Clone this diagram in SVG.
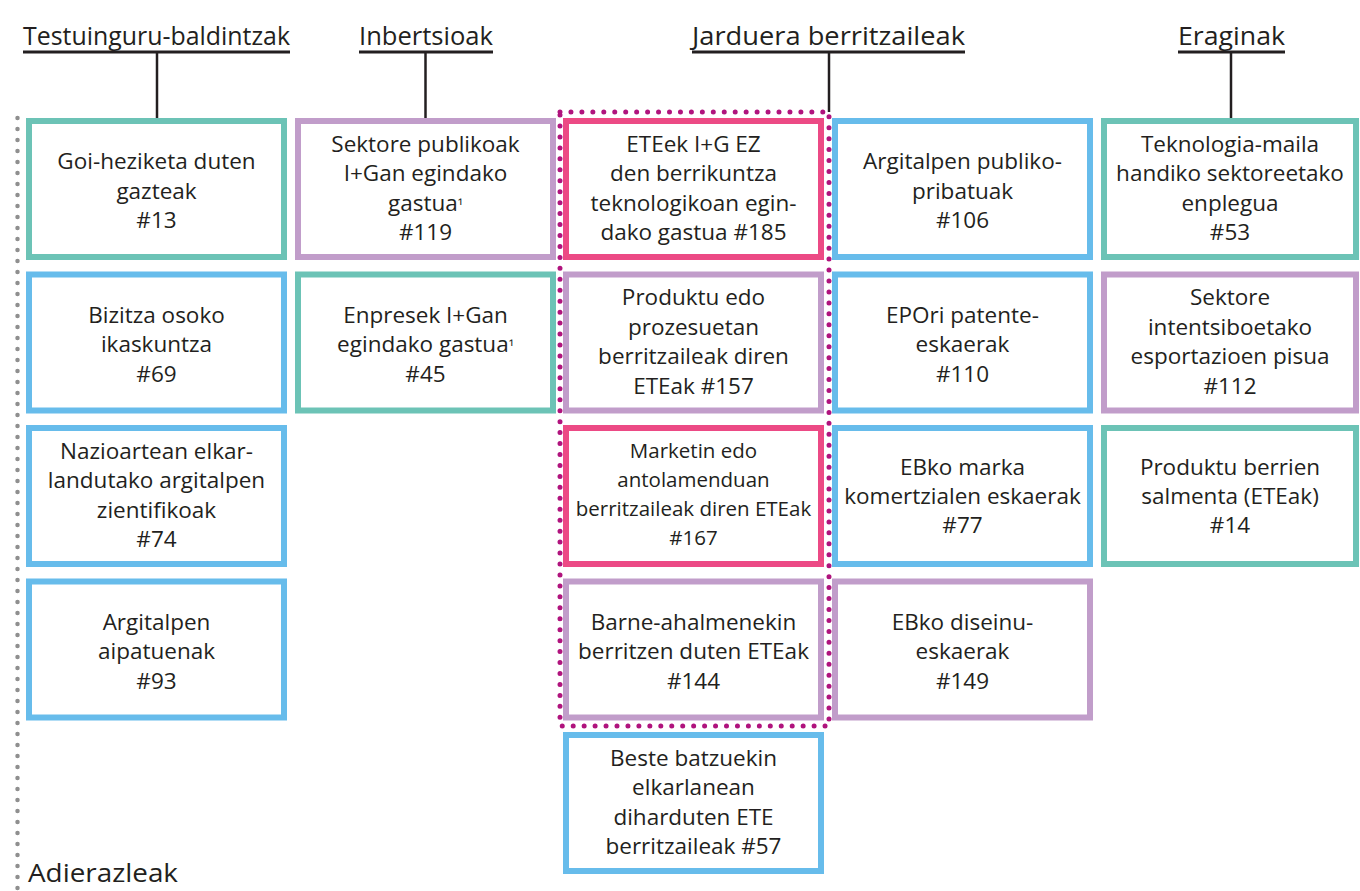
<svg xmlns="http://www.w3.org/2000/svg" width="1360" height="891" viewBox="0 0 1360 891">
<style>
  .hd { font-family: "Open Sans", "Liberation Sans", sans-serif; font-size: 26px; fill: #231f20; }
  .t { font-family: "Open Sans", "Liberation Sans", sans-serif; font-size: 22.5px; fill: #231f20; text-anchor: middle; }
  .ts { font-size: 20.5px; }
  .sup { font-size: 15px; }
  .box { fill: #ffffff; stroke-width: 6; }
  .teal { stroke: #6cc3b6; }
  .lilac { stroke: #c19dca; }
  .blue { stroke: #67bceb; }
  .pink { stroke: #ec4a85; }
  .rule { stroke: #231f20; stroke-width: 3; fill: none; }
  .stem { stroke: #231f20; stroke-width: 2.5; fill: none; }
</style>
<rect x="0" y="0" width="1360" height="891" fill="#ffffff"/>

<g id="headers">
  <text class="hd" x="23" y="45" textLength="267" lengthAdjust="spacingAndGlyphs">Testuinguru-baldintzak</text>
  <text class="hd" x="359" y="45" textLength="134" lengthAdjust="spacingAndGlyphs">Inbertsioak</text>
  <text class="hd" x="692" y="45" textLength="273" lengthAdjust="spacingAndGlyphs">Jarduera berritzaileak</text>
  <text class="hd" x="1178" y="45" textLength="107" lengthAdjust="spacingAndGlyphs">Eraginak</text>
</g>

<g id="connectors">
  <line class="rule" x1="23" y1="52" x2="290" y2="52"/>
  <line class="rule" x1="359" y1="52" x2="493" y2="52"/>
  <line class="rule" x1="692" y1="52" x2="965" y2="52"/>
  <line class="rule" x1="1178" y1="52" x2="1285" y2="52"/>
  <line class="stem" x1="157" y1="53" x2="157" y2="118"/>
  <line class="stem" x1="425.5" y1="53" x2="425.5" y2="118"/>
  <line class="stem" x1="829" y1="53" x2="829" y2="112"/>
  <line class="stem" x1="1231" y1="53" x2="1231" y2="118"/>
  <line x1="17.5" y1="118" x2="17.5" y2="891" stroke="#8f8f8f" stroke-width="4.5" stroke-linecap="round" stroke-dasharray="0 11"/>
  <rect x="560" y="112" width="269" height="614" fill="none" stroke="#b0137d" stroke-width="5" stroke-linecap="round" stroke-dasharray="0 10.95"/>
</g>

<!-- Column 1 -->
<g id="n13">
  <rect class="box teal" x="29" y="121" width="255" height="136"/>
  <text class="t" x="156.5" y="169">Goi-heziketa duten</text>
  <text class="t" x="156.5" y="198.5">gazteak</text>
  <text class="t" x="156.5" y="228">#13</text>
</g>
<g id="n69">
  <rect class="box blue" x="29" y="274.5" width="255" height="136"/>
  <text class="t" x="156.5" y="322.5">Bizitza osoko</text>
  <text class="t" x="156.5" y="352">ikaskuntza</text>
  <text class="t" x="156.5" y="381.5">#69</text>
</g>
<g id="n74">
  <rect class="box blue" x="29" y="428" width="255" height="136"/>
  <text class="t" x="156.5" y="458.5">Nazioartean elkar-</text>
  <text class="t" x="156.5" y="488">landutako argitalpen</text>
  <text class="t" x="156.5" y="517.5">zientifikoak</text>
  <text class="t" x="156.5" y="547">#74</text>
</g>
<g id="n93">
  <rect class="box blue" x="29" y="581.5" width="255" height="136"/>
  <text class="t" x="156.5" y="629.5">Argitalpen</text>
  <text class="t" x="156.5" y="659">aipatuenak</text>
  <text class="t" x="156.5" y="688.5">#93</text>
</g>

<!-- Column 2 -->
<g id="n119">
  <rect class="box lilac" x="298" y="121" width="255" height="136"/>
  <text class="t" x="425.5" y="151.5">Sektore publikoak</text>
  <text class="t" x="425.5" y="181">I+Gan egindako</text>
  <text class="t" x="425.5" y="210.5">gastua<tspan class="sup">¹</tspan></text>
  <text class="t" x="425.5" y="240">#119</text>
</g>
<g id="n45">
  <rect class="box teal" x="298" y="274.5" width="255" height="136"/>
  <text class="t" x="425.5" y="322.5">Enpresek I+Gan</text>
  <text class="t" x="425.5" y="352">egindako gastua<tspan class="sup">¹</tspan></text>
  <text class="t" x="425.5" y="381.5">#45</text>
</g>

<!-- Column 3 -->
<g id="n185">
  <rect class="box pink" x="566" y="121" width="255" height="136"/>
  <text class="t" x="693.5" y="151.5">ETEek I+G EZ</text>
  <text class="t" x="693.5" y="181">den berrikuntza</text>
  <text class="t" x="693.5" y="210.5">teknologikoan egin-</text>
  <text class="t" x="693.5" y="240">dako gastua #185</text>
</g>
<g id="n157">
  <rect class="box lilac" x="566" y="274.5" width="255" height="136"/>
  <text class="t" x="693.5" y="305">Produktu edo</text>
  <text class="t" x="693.5" y="334.5">prozesuetan</text>
  <text class="t" x="693.5" y="364">berritzaileak diren</text>
  <text class="t" x="693.5" y="393.5">ETEak #157</text>
</g>
<g id="n167">
  <rect class="box pink" x="566" y="428" width="255" height="136"/>
  <text class="t ts" x="693.5" y="458">Marketin edo</text>
  <text class="t ts" x="693.5" y="487">antolamenduan</text>
  <text class="t ts" x="693.5" y="516">berritzaileak diren ETEak</text>
  <text class="t ts" x="693.5" y="545">#167</text>
</g>
<g id="n144">
  <rect class="box lilac" x="566" y="581.5" width="255" height="136"/>
  <text class="t" x="693.5" y="629.5">Barne-ahalmenekin</text>
  <text class="t" x="693.5" y="659">berritzen duten ETEak</text>
  <text class="t" x="693.5" y="688.5">#144</text>
</g>
<g id="n57">
  <rect class="box blue" x="566" y="735" width="255" height="136"/>
  <text class="t" x="693.5" y="765.5">Beste batzuekin</text>
  <text class="t" x="693.5" y="795">elkarlanean</text>
  <text class="t" x="693.5" y="824.5">diharduten ETE</text>
  <text class="t" x="693.5" y="854">berritzaileak #57</text>
</g>

<!-- Column 4 -->
<g id="n106">
  <rect class="box blue" x="835" y="121" width="255" height="136"/>
  <text class="t" x="962.5" y="169">Argitalpen publiko-</text>
  <text class="t" x="962.5" y="198.5">pribatuak</text>
  <text class="t" x="962.5" y="228">#106</text>
</g>
<g id="n110">
  <rect class="box blue" x="835" y="274.5" width="255" height="136"/>
  <text class="t" x="962.5" y="322.5">EPOri patente-</text>
  <text class="t" x="962.5" y="352">eskaerak</text>
  <text class="t" x="962.5" y="381.5">#110</text>
</g>
<g id="n77">
  <rect class="box blue" x="835" y="428" width="255" height="136"/>
  <text class="t" x="962.5" y="475">EBko marka</text>
  <text class="t" x="962.5" y="504">komertzialen eskaerak</text>
  <text class="t" x="962.5" y="533">#77</text>
</g>
<g id="n149">
  <rect class="box lilac" x="835" y="581.5" width="255" height="136"/>
  <text class="t" x="962.5" y="629.5">EBko diseinu-</text>
  <text class="t" x="962.5" y="659">eskaerak</text>
  <text class="t" x="962.5" y="688.5">#149</text>
</g>

<!-- Column 5 -->
<g id="n53">
  <rect class="box teal" x="1104" y="121" width="252" height="136"/>
  <text class="t" x="1230" y="151.5">Teknologia-maila</text>
  <text class="t" x="1230" y="181">handiko sektoreetako</text>
  <text class="t" x="1230" y="210.5">enplegua</text>
  <text class="t" x="1230" y="240">#53</text>
</g>
<g id="n112">
  <rect class="box lilac" x="1104" y="274.5" width="252" height="136"/>
  <text class="t" x="1230" y="305">Sektore</text>
  <text class="t" x="1230" y="334.5">intentsiboetako</text>
  <text class="t" x="1230" y="364">esportazioen pisua</text>
  <text class="t" x="1230" y="393.5">#112</text>
</g>
<g id="n14">
  <rect class="box teal" x="1104" y="428" width="252" height="136"/>
  <text class="t" x="1230" y="475">Produktu berrien</text>
  <text class="t" x="1230" y="504">salmenta (ETEak)</text>
  <text class="t" x="1230" y="533">#14</text>
</g>

<g id="legend">
  <text class="hd" x="28" y="882" font-size="25" textLength="150" lengthAdjust="spacingAndGlyphs">Adierazleak</text>
</g>
</svg>
